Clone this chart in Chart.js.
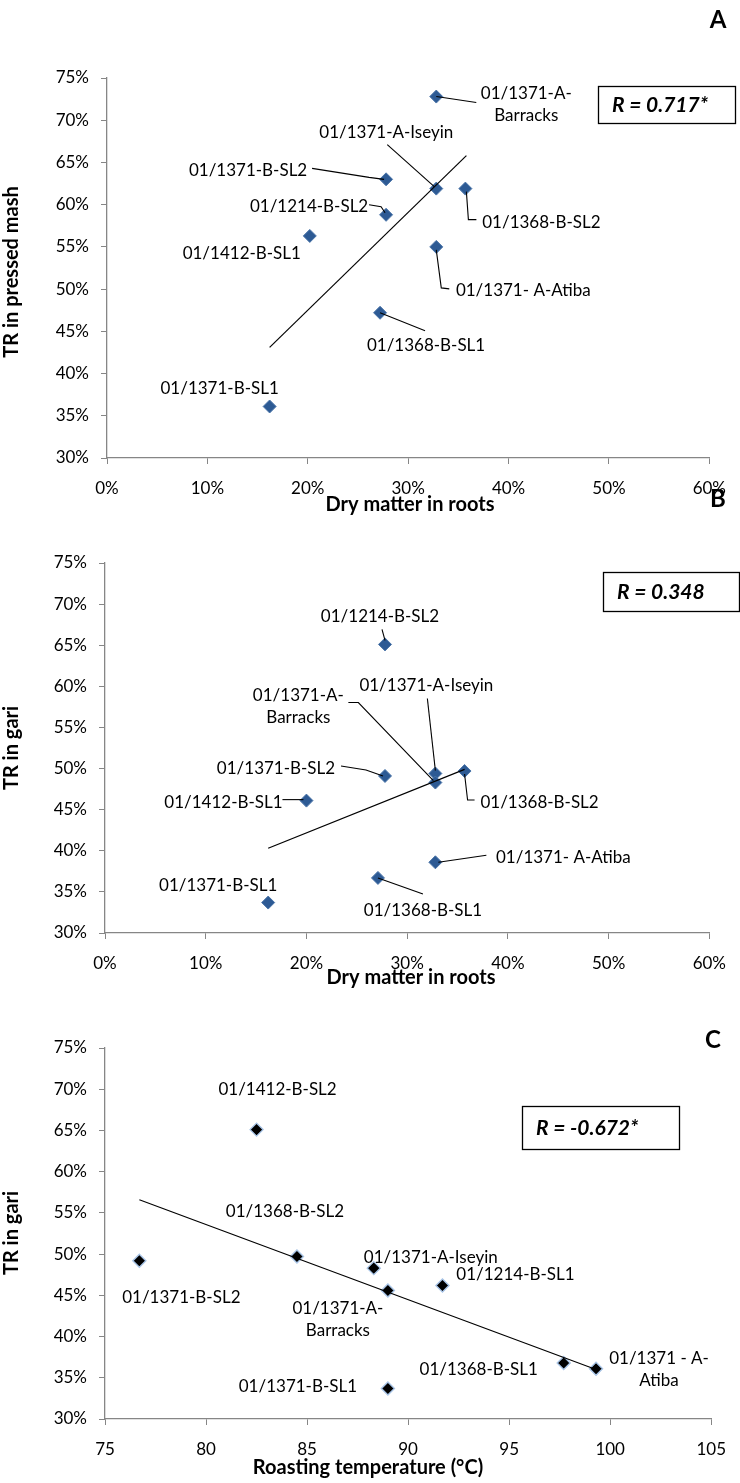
<!DOCTYPE html>
<html><head><meta charset="utf-8"><title>TR correlations</title>
<script src="https://cdn.jsdelivr.net/npm/chart.js@4.4.1/dist/chart.umd.min.js"></script>
<style>
html,body{margin:0;padding:0;background:#fff}
body{width:740px;height:1483px;position:relative;overflow:hidden}
canvas{position:absolute;left:0;top:0}
</style></head><body>
<canvas id="chartA" width="740" height="1483"></canvas>
<canvas id="chartB" width="740" height="1483"></canvas>
<canvas id="chartC" width="740" height="1483"></canvas>
<script>
// ---------- DATA ----------
// Panel A: TR in pressed mash vs dry matter in roots (%)
const aLabels = [['01/1371-A-','Barracks'],['01/1371-A-Iseyin'],['01/1368-B-SL2'],['01/1371- A-Atiba'],['01/1371-B-SL2'],['01/1214-B-SL2'],['01/1412-B-SL1'],['01/1368-B-SL1'],['01/1371-B-SL1']];
const aDryMatter = [32.8, 32.8, 35.7, 32.8, 27.8, 27.8, 20.2, 27.2, 16.2];
const aTRMash    = [72.8, 61.9, 61.9, 55.0, 63.0, 58.8, 56.3, 47.2, 36.1];
const aTrendX = [16.2, 35.8];
const aTrendY = [43.1, 65.8];
const aR = 'R = 0.717*';

// Panel B: TR in gari vs dry matter in roots (%)
const bLabels = [['01/1214-B-SL2'],['01/1371-A-Iseyin'],['01/1371-A-','Barracks'],['01/1368-B-SL2'],['01/1371-B-SL2'],['01/1412-B-SL1'],['01/1371- A-Atiba'],['01/1368-B-SL1'],['01/1371-B-SL1']];
const bDryMatter = [27.8, 32.8, 32.8, 35.7, 27.8, 20.0, 32.8, 27.1, 16.2];
const bTRGari    = [65.1, 49.4, 48.3, 49.7, 49.1, 46.1, 38.6, 36.7, 33.7];
const bTrendX = [16.2, 35.7];
const bTrendY = [40.3, 49.9];
const bR = 'R = 0.348';

// Panel C: TR in gari vs roasting temperature (°C)
const cLabels = [['01/1412-B-SL2'],['01/1368-B-SL2'],['01/1371-B-SL2'],['01/1371-A-Iseyin'],['01/1371-A-','Barracks'],['01/1214-B-SL1'],['01/1368-B-SL1'],['01/1371 - A-','Atiba'],['01/1371-B-SL1']];
const cTemp   = [82.5, 84.5, 76.7, 88.3, 89.0, 91.7, 97.7, 99.3, 89.0];
const cTRGari = [65.1, 49.7, 49.2, 48.3, 45.6, 46.2, 36.8, 36.1, 33.7];
const cTrendX = [76.7, 99.3];
const cTrendY = [56.6, 36.0];
const cR = 'R = -0.672*';

// Axis tick settings
const pctTicks = {min: 30, max: 75, step: 5};
const dmTicks = {min: 0, max: 60, step: 10};
const tempTicks = {min: 75, max: 105, step: 5};

// ---------- LAYOUT (positions, not data) ----------
const layoutA = {
  area: {l: 107, r: 712, t: 78, b: 458},
  labelPos: [[90,-4],[-50,-57],[76,33],[87,43],[-138,-9],[-77,-9],[-68,17],[46,32],[-50,-18]],
  leaders: [[[0,0],[40,6]], [[-49,-44],[-2,-2]], [[1,3],[3,31],[11,31]], [[0,3],[5,41],[13,42]],
            [[-74,-11],[-17,-2],[-2,0]], [[-17,-10],[-5,-8],[-1,-2]], null, [[0,0],[45,18]], null],
  yTitle: {text: 'TR in pressed mash', x: 12, y: 272},
  xTitle: {text: 'Dry matter in roots', x: 410, y: 505},
  letter: {text: 'A', x: 718, y: 20},
  rBox: {x: 598, y: 86, w: 137, h: 37, tx: 612, ty: 105}
};
const layoutB = {
  area: {l: 105, r: 718, t: 563, b: 933},
  labelPos: [[-5,-28],[-9,-88],[-137,-88],[75,31],[-109,-8],[-83,1],[128,-5],[45,32],[-50,-18]],
  leaders: [[[-3,-15],[0,-4]], [[-8,-75],[0,-3]], [[-87,-80],[-77,-80],[-2,-2]], [[0,3],[3,29],[10,29]],
            [[-44,-10],[-19,-6],[-2,0]], [[-24,-1],[-3,-1]], [[3,0],[51,-7]], [[0,0],[45,16]], null],
  yTitle: {text: 'TR in gari', x: 12, y: 748},
  xTitle: {text: 'Dry matter in roots', x: 411, y: 978},
  letter: {text: 'B', x: 718, y: 499},
  rBox: {x: 603, y: 572, w: 136, h: 39, tx: 617, ty: 592}
};
const layoutC = {
  area: {l: 105, r: 720, t: 1048, b: 1419},
  labelPos: [[21,-41],[-12,-46],[42,36],[57,-11],[-50,18],[73,-11],[-85,6],[63,-11],[-90,-2]],
  leaders: [null,null,null,null,null,null,null,null,null],
  yTitle: {text: 'TR in gari', x: 12, y: 1233},
  xTitle: {text: 'Roasting temperature (°C)', x: 368, y: 1468},
  letter: {text: 'C', x: 713, y: 1040},
  rBox: {x: 522, y: 1106, w: 157, h: 43, tx: 536, ty: 1128}
};

// ---------- STYLE ----------
const FONT = 'Lato, "Liberation Sans", sans-serif';
const AXIS_GRAY = '#868686';

function annotPlugin(name, xs, ys, labels, L, rText) {
  return {
    id: 'annot' + name,
    afterDatasetsDraw(chart) {
      const ctx = chart.ctx, sx = chart.scales.x, sy = chart.scales.y;
      ctx.save();
      ctx.strokeStyle = '#000';
      ctx.lineWidth = 1.1;
      ctx.fillStyle = '#000';
      ctx.font = '17px ' + FONT;
      ctx.textAlign = 'center';
      ctx.textBaseline = 'alphabetic';
      xs.forEach((xv, i) => {
        const px = sx.getPixelForValue(xv), py = sy.getPixelForValue(ys[i]);
        const ld = L.leaders[i];
        if (ld) {
          ctx.beginPath();
          ld.forEach((o, k) => k ? ctx.lineTo(px + o[0], py + o[1]) : ctx.moveTo(px + o[0], py + o[1]));
          ctx.stroke();
        }
        const pos = L.labelPos[i];
        labels[i].forEach((t, k) => ctx.fillText(t, px + pos[0], py + pos[1] + 6 + k * 22));
      });
      // axis titles
      ctx.font = 'bold 20px ' + FONT;
      ctx.textBaseline = 'middle';
      ctx.fillText(L.xTitle.text, L.xTitle.x, L.xTitle.y);
      ctx.save();
      ctx.translate(L.yTitle.x, L.yTitle.y);
      ctx.rotate(-Math.PI / 2);
      ctx.fillText(L.yTitle.text, 0, 0);
      ctx.restore();
      // panel letter
      ctx.font = 'bold 24px ' + FONT;
      ctx.fillText(L.letter.text, L.letter.x, L.letter.y);
      // R box
      ctx.lineWidth = 1.3;
      ctx.strokeRect(L.rBox.x + 0.5, L.rBox.y + 0.5, L.rBox.w, L.rBox.h);
      ctx.font = 'italic bold 21px ' + FONT;
      ctx.textAlign = 'left';
      ctx.fillText(rText, L.rBox.tx, L.rBox.ty);
      ctx.restore();
    }
  };
}

function makeChart(id, name, xs, ys, tx, ty, labels, L, xT, rText, isC) {
  const pts = xs.map((x, i) => ({x: x, y: ys[i]}));
  const trend = tx.map((x, i) => ({x: x, y: ty[i]}));
  const a = L.area;
  return new Chart(document.getElementById(id), {
    type: 'scatter',
    data: {
      datasets: [
        {data: trend, showLine: true, pointRadius: 0, borderColor: '#000', borderWidth: 1.2, order: 0},
        {data: pts, pointStyle: 'rectRot', pointRadius: 6.5, pointHoverRadius: 6.5,
         backgroundColor: isC ? '#000' : '#2d5a94', borderColor: isC ? '#a8c4e6' : '#4a74a8',
         borderWidth: isC ? 1.4 : 1, order: 1}
      ]
    },
    options: {
      responsive: false, animation: false, devicePixelRatio: 1,
      events: [],
      layout: {padding: {top: a.t, left: 0, right: 740 - a.r, bottom: 0}},
      plugins: {legend: {display: false}, tooltip: {enabled: false}},
      scales: {
        x: {
          type: 'linear', min: xT.min, max: xT.max,
          afterFit: s => { s.height = 1483 - a.b; },
          ticks: {stepSize: xT.step, color: '#000', font: {family: FONT, size: 17}, padding: 14,
                  callback: v => isC ? String(v) : v + '%'},
          grid: {drawOnChartArea: false, drawTicks: true, tickLength: 6, color: AXIS_GRAY},
          border: {color: AXIS_GRAY, width: 1.3}
        },
        y: {
          type: 'linear', min: pctTicks.min, max: pctTicks.max,
          afterFit: s => { s.width = a.l; },
          ticks: {stepSize: pctTicks.step, color: '#000', font: {family: FONT, size: 17}, padding: 12,
                  callback: v => v + '%'},
          grid: {drawOnChartArea: false, drawTicks: true, tickLength: 6, color: AXIS_GRAY},
          border: {color: AXIS_GRAY, width: 1.3}
        }
      }
    },
    plugins: [annotPlugin(name, xs, ys, labels, L, rText)]
  });
}

makeChart('chartA', 'A', aDryMatter, aTRMash, aTrendX, aTrendY, aLabels, layoutA, dmTicks, aR, false);
makeChart('chartB', 'B', bDryMatter, bTRGari, bTrendX, bTrendY, bLabels, layoutB, dmTicks, bR, false);
makeChart('chartC', 'C', cTemp, cTRGari, cTrendX, cTrendY, cLabels, layoutC, tempTicks, cR, true);
</script>
</body></html>
